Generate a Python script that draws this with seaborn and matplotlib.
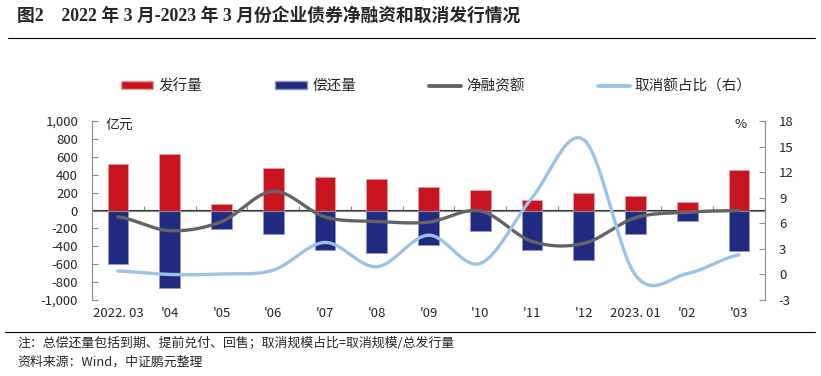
import matplotlib
matplotlib.use('Agg')
import matplotlib.pyplot as plt
from matplotlib.patches import Patch
from matplotlib.lines import Line2D
import numpy as np
import pandas as pd
import seaborn as sns

# data
months = ["2022. 03", "'04", "'05", "'06", "'07", "'08", "'09", "'10", "'11", "'12", "2023. 01", "'02", "'03"]
issuance = [525, 635, 78, 475, 374, 352, 258, 225, 112, 191, 165, 98, 449]
repayment = [-597, -867, -206, -262, -442, -475, -388, -232, -442, -554, -262, -120, -449]
net_financing = [-70, -225, -125, 215, -72, -122, -130, -5, -345, -368, -80, -20, 0]
cancel_ratio = [0.4, 0.0, 0.05, 0.5, 3.75, 0.9, 4.6, 1.3, 9.0, 15.8, -0.1, 0.1, 2.3]

red = '#C8141F'
navy = '#1F2A80'
grey = '#646464'
lightblue = '#9CC3E6'
axis_grey = '#8C8C8C'

sns.set_style('white')
plt.rcParams['font.family'] = ['Noto Sans CJK SC', 'DejaVu Sans']
plt.rcParams['axes.unicode_minus'] = False


def smooth(vals, n=30):
    # excel-style smoothed line (catmull-rom through the points)
    p = np.r_[vals[0], vals, vals[-1]]
    xs, ys = [], []
    t = np.linspace(0, 1, n)
    for i in range(len(vals) - 1):
        p0, p1, p2, p3 = p[i], p[i + 1], p[i + 2], p[i + 3]
        y = 0.5 * (2 * p1 + (-p0 + p2) * t + (2 * p0 - 5 * p1 + 4 * p2 - p3) * t ** 2
                   + (-p0 + 3 * p1 - 3 * p2 + p3) * t ** 3)
        xs.extend(i + t)
        ys.extend(y)
    return pd.DataFrame({'x': xs, 'y': ys})


fig = plt.figure(figsize=(8.21, 3.76), dpi=100)
ax = fig.add_axes([92 / 821, 1 - 300 / 376, 673 / 821, 179 / 376])

df = pd.DataFrame({'month': months, 'issuance': issuance, 'repayment': repayment})
sns.barplot(data=df, x='month', y='issuance', color=red, saturation=1, width=0.4,
            edgecolor='#E8A0A8', linewidth=0.6, ax=ax)
sns.barplot(data=df, x='month', y='repayment', color=navy, saturation=1, width=0.4,
            edgecolor='#9098C8', linewidth=0.6, ax=ax)

net = smooth(net_financing)
sns.lineplot(data=net, x='x', y='y', color=grey, lw=2.4, sort=False, ax=ax)

ax.set_xlim(-0.5, 12.5)
ax.set_ylim(-1000, 1000)
ax.set_yticks(range(-1000, 1001, 200))
ax.set_yticklabels([f"{v:,}" for v in range(-1000, 1001, 200)])
ax.set_xlabel('')
ax.set_ylabel('')
ax.axhline(0, color=axis_grey, lw=0.9, zorder=1.5)
ax.tick_params(axis='y', direction='in', length=4, color=axis_grey, labelsize=9.5, pad=10, left=True)
ax.tick_params(axis='x', length=0, labelsize=9.5, pad=5)
for s in ['top', 'right', 'bottom']:
    ax.spines[s].set_visible(False)
ax.spines['left'].set_color(axis_grey)

# category ticks on the zero line
sec = ax.secondary_xaxis(0.5)
sec.set_xticks(np.arange(-0.5, 12.6, 1))
sec.set_xticklabels([])
sec.tick_params(direction='out', length=3, color=axis_grey)
sec.spines['bottom'].set_visible(False)

ax2 = ax.twinx()
ratio = smooth(cancel_ratio)
sns.lineplot(data=ratio, x='x', y='y', color=lightblue, lw=2.4, sort=False, ax=ax2)
ax2.set_ylim(-3, 18)
ax2.set_yticks(range(-3, 19, 3))
ax2.set_ylabel('')
ax2.tick_params(axis='y', direction='in', length=4, color=axis_grey, labelsize=9.5, pad=10, right=True)
for s in ['top', 'left', 'bottom']:
    ax2.spines[s].set_visible(False)
ax2.spines['right'].set_color(axis_grey)

fig.text(106 / 821, 1 - 125 / 376, '亿元', fontsize=10, va='center')
fig.text(741 / 821, 1 - 125 / 376, '%', fontsize=9.5, va='center', ha='center')

handles = [Patch(facecolor=red, edgecolor='#E8A0A8'),
           Patch(facecolor=navy, edgecolor='#9098C8'),
           Line2D([], [], color=grey, lw=2.8),
           Line2D([], [], color=lightblue, lw=2.8)]
labels = ['发行量', '偿还量', '净融资额', '取消额占比（右）']
fig.legend(handles, labels, loc='center left', bbox_to_anchor=(121 / 821, 1 - 86 / 376),
           ncol=4, frameon=False, fontsize=10.5, handlelength=2.2, handleheight=0.5,
           handletextpad=0.35, columnspacing=5.0, borderpad=0, borderaxespad=0)

fig.text(17 / 821, 1 - 16 / 376, '图2　2022 年 3 月-2023 年 3 月份企业债券净融资和取消发行情况',
         fontsize=12.8, fontweight='bold', va='center',
         family=['Liberation Serif', 'Noto Sans CJK SC'])
fig.add_artist(Line2D([8 / 821, 815 / 821], [1 - 38 / 376] * 2, color='black', lw=0.8))
fig.add_artist(Line2D([5 / 821, 815 / 821], [1 - 332 / 376] * 2, color='black', lw=0.8))
fig.text(17 / 821, 1 - 343 / 376, '注：总偿还量包括到期、提前兑付、回售；取消规模占比=取消规模/总发行量',
         fontsize=9.3, va='center')
fig.text(17 / 821, 1 - 362 / 376, '资料来源：Wind，中证鹏元整理', fontsize=9.3, va='center')

fig.savefig('out.png', dpi=100)
